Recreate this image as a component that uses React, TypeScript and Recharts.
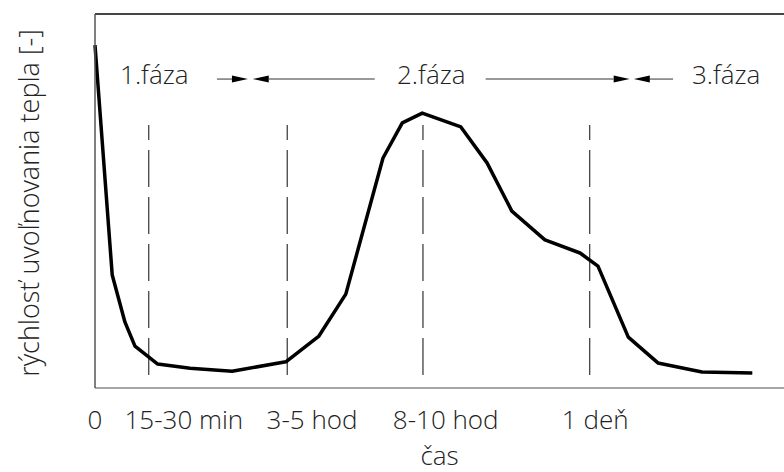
import {
  LineChart,
  Line,
  XAxis,
  YAxis,
  ReferenceLine,
  ReferenceDot,
} from 'recharts'

// time axis in 0..100 units (not a real scale in the original sketch)
const timePos = [0, 2.5, 4.35, 5.8, 9.1, 13.8, 19.9, 27.7, 32.5, 36.4, 41.8, 44.6, 47.5, 53.1, 56.9, 60.5, 65.3, 70.4, 73.0, 77.4, 81.7, 88.1, 95.4]
const heatRate = [91.7, 30.2, 17.6, 11.2, 6.4, 5.3, 4.5, 7.0, 13.9, 25.1, 61.5, 70.9, 73.5, 69.8, 60.2, 47.3, 39.6, 36.1, 32.6, 13.6, 6.7, 4.3, 4.0]

const tickPos = [0, 12.9, 31.5, 50.9, 72.6]
const tickLabels = ['0', '15-30 min', '3-5 hod', '8-10 hod', '1 deň']

const boundaries = [7.8, 27.9, 47.6, 71.8]
const boundaryFrom = 3.5
const boundaryTo = 70.3

const phaseLabels = ['1.fáza', '2.fáza', '3.fáza']
const phasePos = [8.6, 48.8, 91.6]
const phaseY = 83.7

const arrowFrom = [17.7, 40.6, 56.7, 83.9]
const arrowTip = [22.2, 22.9, 77.6, 78.2]
const arrowY = 82.6

const font = "'Open Sans', sans-serif"
const ink = '#222'
const fs = 26

const data = timePos.map((t, i) => ({ t, rate: heatRate[i] }))

function Arrow(props: any) {
  const { x1, y1, x2, y2 } = props
  const dir = x2 > x1 ? 1 : -1
  const head = 16
  const base = x2 - dir * head
  return (
    <g>
      <line x1={x1} y1={y1} x2={base} y2={y2} stroke="#777" strokeWidth={1.5} />
      <polygon points={`${x2},${y2} ${base},${y2 - 3.5} ${base},${y2 + 3.5}`} fill="#000" />
    </g>
  )
}

export default function App() {
  return (
    <div style={{ position: 'absolute', left: 0, top: 0, background: '#fff' }}>
      <LineChart width={784} height={472} data={data} margin={{ top: 14, right: 0, left: 0, bottom: 0 }}>
        <XAxis
          dataKey="t"
          type="number"
          domain={[0, 100]}
          ticks={tickPos}
          tickFormatter={(v, i) => tickLabels[i]}
          interval={0}
          height={84}
          tickLine={false}
          tickMargin={17}
          axisLine={{ stroke: '#888', strokeWidth: 1.5 }}
          tick={{ fill: ink, fontSize: fs, fontFamily: font, fontWeight: 300 }}
          label={{
            value: 'čas',
            position: 'insideBottom',
            offset: 7,
            fill: ink,
            fontSize: fs,
            fontFamily: font,
            fontWeight: 300,
          }}
        />
        <YAxis
          type="number"
          domain={[0, 100]}
          width={95}
          tick={false}
          tickLine={false}
          axisLine={{ stroke: '#555', strokeWidth: 1.5 }}
          label={{
            content: () => (
              <text
                x={28}
                y={203}
                transform="rotate(-90, 28, 203)"
                textAnchor="middle"
                dominantBaseline="central"
                fill={ink}
                fontSize={27}
                fontFamily={font}
                fontWeight={300}
              >
                rýchlosť uvoľnovania tepla [-]
              </text>
            ),
          }}
        />
        <ReferenceLine y={100} stroke="#444" strokeWidth={2} />
        {boundaries.map((b) => (
          <ReferenceLine
            key={b}
            segment={[{ x: b, y: boundaryFrom }, { x: b, y: boundaryTo }]}
            stroke="#333"
            strokeWidth={1.2}
            strokeDasharray="37 10"
          />
        ))}
        {arrowFrom.map((a, i) => (
          <ReferenceLine
            key={'arr' + i}
            segment={[{ x: a, y: arrowY }, { x: arrowTip[i], y: arrowY }]}
            shape={Arrow}
          />
        ))}
        {phaseLabels.map((p, i) => (
          <ReferenceDot
            key={p}
            x={phasePos[i]}
            y={phaseY}
            r={0}
            fill="none"
            stroke="none"
            label={{ value: p, position: 'center', fill: ink, fontSize: fs, fontFamily: font, fontWeight: 300 }}
          />
        ))}
        <Line
          type="linear"
          dataKey="rate"
          stroke="#000"
          strokeWidth={3.5}
          strokeLinejoin="round"
          dot={false}
          isAnimationActive={false}
        />
      </LineChart>
    </div>
  )
}
